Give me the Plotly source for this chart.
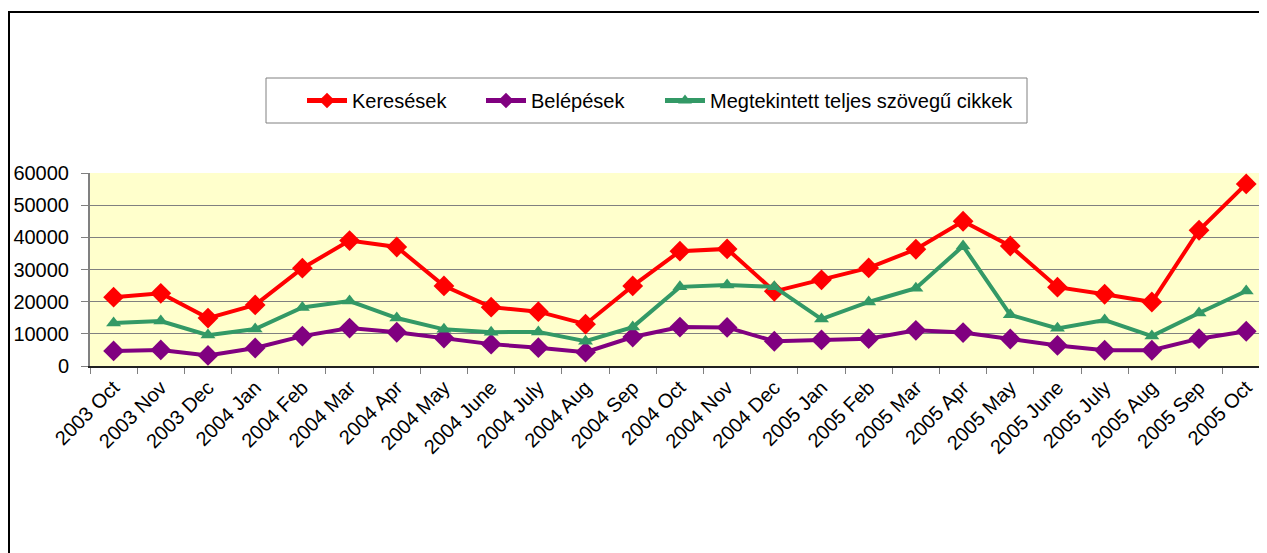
import plotly.graph_objects as go

months = ["2003 Oct", "2003 Nov", "2003 Dec", "2004 Jan", "2004 Feb", "2004 Mar", "2004 Apr",
          "2004 May", "2004 June", "2004 July", "2004 Aug", "2004 Sep", "2004 Oct", "2004 Nov",
          "2004 Dec", "2005 Jan", "2005 Feb", "2005 Mar", "2005 Apr", "2005 May", "2005 June",
          "2005 July", "2005 Aug", "2005 Sep", "2005 Oct"]

keresesek = [21400, 22600, 14900, 19000, 30400, 39000, 37000, 24900, 18300, 16900, 13000, 24900,
             35700, 36400, 23200, 26800, 30500, 36300, 45000, 37300, 24500, 22300, 19900, 42200, 56600]
belepesek = [4700, 5000, 3300, 5600, 9300, 11800, 10500, 8700, 6800, 5700, 4300, 9000,
             12100, 12000, 7700, 8100, 8500, 11100, 10400, 8400, 6400, 4900, 4900, 8500, 10800]
cikkek = [13400, 14000, 9600, 11500, 18200, 20200, 14900, 11400, 10500, 10600, 7700, 12100,
          24600, 25200, 24600, 14600, 19900, 24200, 37300, 15900, 11700, 14300, 9300, 16500, 23300]

FONT = "Arial, 'Liberation Sans', sans-serif"

fig = go.Figure()
fig.add_trace(go.Scatter(x=months, y=keresesek, name="Keresések", mode="lines+markers",
                         line=dict(color="#FF0000", width=4), legend="legend",
                         marker=dict(symbol="diamond", size=16, color="#FF0000")))
fig.add_trace(go.Scatter(x=months, y=belepesek, name="Belépések", mode="lines+markers",
                         line=dict(color="#800080", width=4), legend="legend2",
                         marker=dict(symbol="diamond", size=16, color="#800080")))
fig.add_trace(go.Scatter(x=months, y=cikkek, name="Megtekintett teljes szövegű cikkek", mode="lines+markers",
                         line=dict(color="#339966", width=4), legend="legend3",
                         marker=dict(symbol="triangle-up", size=13, color="#339966")))

# figure is placed at (8,8) inside the page (body margin)
W, H = 1259, 545
L, T = 82, 165
PB = 358  # plot bottom in figure px
B = H - PB
pw = W - L
ph = PB - T


def px(fx):
    return (fx - L) / pw


def py(fy):
    return (PB - fy) / ph


# outer chart border (left and top visible)
fig.add_shape(type="line", xref="paper", yref="paper",
              x0=px(1), x1=px(1), y0=py(H + 5), y1=py(3),
              line=dict(color="black", width=2), layer="below")
fig.add_shape(type="line", xref="paper", yref="paper",
              x0=px(0), x1=px(W + 5), y0=py(4), y1=py(4),
              line=dict(color="black", width=2), layer="below")

# legend frame
fig.add_shape(type="rect", xref="paper", yref="paper",
              x0=px(258), x1=px(1019), y0=py(115), y1=py(70),
              line=dict(color="#808080", width=1), fillcolor="white", layer="below")


def leg(fx):
    return dict(orientation="h", xanchor="left", x=px(fx),
                yanchor="middle", y=py(92.5),
                borderwidth=0, bgcolor="rgba(0,0,0,0)",
                font=dict(family=FONT, size=20), itemwidth=40,
                itemsizing="constant")


fig.update_layout(
    width=W, height=H,
    margin=dict(l=L, r=0, t=T, b=B, autoexpand=False),
    paper_bgcolor="white",
    plot_bgcolor="#FFFFCC",
    font=dict(family=FONT, size=20, color="black"),
    showlegend=True,
    legend=leg(294),
    legend2=leg(473),
    legend3=leg(652),
    xaxis=dict(type="category", range=[-0.5, 24.44], tickangle=-45,
               ticks="outside", ticklen=6, tickcolor="#808080", tickson="boundaries",
               showline=True, linecolor="#202020", linewidth=2, showgrid=False,
               tickfont=dict(family=FONT, size=20)),
    yaxis=dict(range=[0, 60000], dtick=10000, tickformat="d", ticks="outside", ticklen=7,
               tickcolor="#808080", ticklabelstandoff=8,
               showline=True, linecolor="#808080", linewidth=2,
               showgrid=True, gridcolor="#808080", gridwidth=1, zeroline=False,
               tickfont=dict(family=FONT, size=20)),
)

fig.write_html("out.html", config={"displayModeBar": False},
               post_script="document.body.style.margin='8px 8px 0 8px';document.documentElement.style.overflow='hidden';document.body.style.overflow='hidden';")
